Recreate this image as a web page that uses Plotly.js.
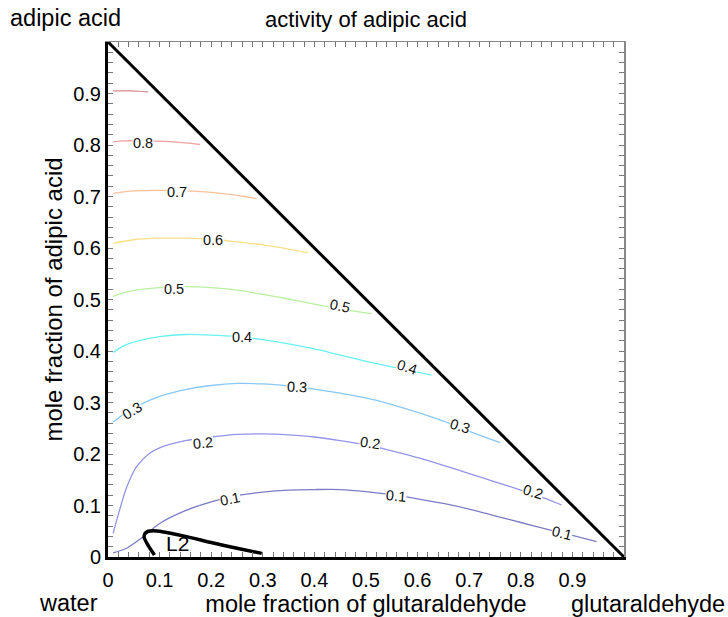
<!DOCTYPE html>
<html>
<head>
<meta charset="utf-8">
<script src="https://cdn.plot.ly/plotly-3.0.1.min.js"></script>
<style>html,body{margin:0;padding:0;background:#fff;}#chart{width:728px;height:617px;}</style>
</head>
<body>
<div id="chart"></div>
<script>
// ---- data (mole fractions) ----
const levels = ["0.9","0.8","0.7","0.6","0.5","0.4","0.3","0.2","0.1"];
const levelColors = ["#d88c8c","#f0a0a0","#f8c098","#f8e088","#b8f0a0","#66f0f0","#88c8f8","#9494ea","#7c7cc4"];

const c09x = [0.01, 0.04, 0.078];
const c09y = [0.905, 0.905, 0.903];
const c08x = [0.01, 0.03, 0.07, 0.11, 0.15, 0.178];
const c08y = [0.806, 0.808, 0.808, 0.807, 0.804, 0.801];
const c07x = [0.01, 0.05, 0.1, 0.15, 0.2, 0.25, 0.288];
const c07y = [0.706, 0.711, 0.712, 0.711, 0.708, 0.702, 0.696];
const c06x = [0.01, 0.05, 0.1, 0.15, 0.2, 0.25, 0.3, 0.35, 0.388];
const c06y = [0.609, 0.616, 0.619, 0.619, 0.617, 0.612, 0.606, 0.598, 0.591];
const c05x = [0.01, 0.03, 0.06, 0.1, 0.15, 0.2, 0.25, 0.3, 0.35, 0.4, 0.45, 0.511];
const c05y = [0.506, 0.513, 0.519, 0.523, 0.525, 0.523, 0.518, 0.51, 0.501, 0.491, 0.482, 0.472];
const c04x = [0.01, 0.03, 0.06, 0.1, 0.15, 0.2, 0.25, 0.3, 0.35, 0.4, 0.45, 0.5, 0.55, 0.6, 0.627];
const c04y = [0.397, 0.41, 0.42, 0.428, 0.432, 0.431, 0.428, 0.422, 0.414, 0.404, 0.392, 0.38, 0.369, 0.359, 0.353];
const c03x = [0.01, 0.03, 0.05, 0.08, 0.1, 0.15, 0.2, 0.25, 0.3, 0.35, 0.4, 0.45, 0.5, 0.55, 0.6, 0.65, 0.7, 0.76];
const c03y = [0.262, 0.277, 0.289, 0.304, 0.312, 0.325, 0.333, 0.337, 0.336, 0.332, 0.326, 0.318, 0.309, 0.296, 0.281, 0.264, 0.244, 0.222];
const c02x = [0.01, 0.017, 0.025, 0.036, 0.055, 0.08, 0.1, 0.15, 0.2, 0.25, 0.3, 0.35, 0.4, 0.45, 0.5, 0.55, 0.6, 0.65, 0.7, 0.75, 0.8, 0.85, 0.879];
const c02y = [0.046, 0.072, 0.1, 0.135, 0.175, 0.201, 0.212, 0.226, 0.233, 0.238, 0.239, 0.237, 0.233, 0.226, 0.218, 0.206, 0.193, 0.178, 0.162, 0.146, 0.13, 0.113, 0.101];
const c01x = [0.01, 0.036, 0.068, 0.1, 0.15, 0.2, 0.25, 0.3, 0.35, 0.4, 0.45, 0.5, 0.55, 0.6, 0.65, 0.7, 0.75, 0.8, 0.85, 0.9, 0.947];
const c01y = [0.008, 0.017, 0.039, 0.065, 0.09, 0.107, 0.119, 0.126, 0.13, 0.131, 0.131, 0.127, 0.121, 0.113, 0.104, 0.093, 0.08, 0.067, 0.054, 0.042, 0.03];

const contourX = [c09x, c08x, c07x, c06x, c05x, c04x, c03x, c02x, c01x];
const contourY = [c09y, c08y, c07y, c06y, c05y, c04y, c03y, c02y, c01y];

// L2 phase boundary
const l2x = [0.09, 0.078, 0.07, 0.072, 0.078, 0.088, 0.1, 0.15, 0.2, 0.25, 0.298];
const l2y = [0.004, 0.022, 0.038, 0.046, 0.05, 0.051, 0.05, 0.04, 0.028, 0.017, 0.007];

// binary edge x + y = 1
const edgeX = [0, 1];
const edgeY = [1, 0];

// contour labels
const labelText = ["0.8","0.7","0.6","0.5","0.5","0.4","0.4","0.3","0.3","0.3","0.2","0.2","0.2","0.1","0.1","0.1"];
const labelX = [0.068, 0.133, 0.204, 0.127, 0.450, 0.259, 0.579, 0.046, 0.366, 0.682, 0.185, 0.508, 0.824, 0.236, 0.559, 0.879];
const labelY = [0.804, 0.709, 0.616, 0.521, 0.488, 0.428, 0.368, 0.284, 0.330, 0.254, 0.221, 0.221, 0.126, 0.113, 0.118, 0.047];
const labelAngle = [0, 0, 0, 0, 12, 0, 18, -32, 3, 17, -6, 8, 17, -12, 5, 14];

const tickVals = [0, 0.1, 0.2, 0.3, 0.4, 0.5, 0.6, 0.7, 0.8, 0.9];
const tickText = ["0", "0.1", "0.2", "0.3", "0.4", "0.5", "0.6", "0.7", "0.8", "0.9"];

// ---- traces ----
const FONT = "Liberation Sans, Arial, Helvetica, sans-serif";
const traces = [];
for (let i = 0; i < levels.length; i++) {
  traces.push({
    x: contourX[i], y: contourY[i], type: "scatter", mode: "lines",
    line: {color: levelColors[i], width: 1.3, shape: "spline", smoothing: 0.8},
    hoverinfo: "skip", showlegend: false
  });
}
traces.push({x: l2x, y: l2y, type: "scatter", mode: "lines",
  line: {color: "#000", width: 3.5, shape: "spline", smoothing: 0.6}, showlegend: false});
traces.push({x: edgeX, y: edgeY, type: "scatter", mode: "lines",
  line: {color: "#000", width: 3}, showlegend: false});
traces.push({x: [], y: [], xaxis: "x2", yaxis: "y2", type: "scatter", mode: "lines", showlegend: false});

const annotations = [];
for (let i = 0; i < labelText.length; i++) {
  annotations.push({x: labelX[i], y: labelY[i], xref: "x", yref: "y", text: labelText[i],
    showarrow: false, textangle: labelAngle[i], bgcolor: "#fff", borderpad: 0,
    font: {family: FONT, size: 14.5, color: "#111"}});
}
annotations.push({x: 0.134, y: 0.027, xref: "x", yref: "y", text: "L2", showarrow: false,
  font: {family: FONT, size: 21, color: "#000"}});

const W = 728, H = 617, ML = 108, MR = 104, MT = 42, MB = 60;
const pw = W - ML - MR, ph = H - MT - MB;
function px2paperX(px) { return (px - ML) / pw; }
function px2paperY(py) { return (H - MB - py) / ph; }
annotations.push({x: px2paperX(8), y: px2paperY(18), xref: "paper", yref: "paper", xanchor: "left", yanchor: "middle",
  text: "adipic acid", showarrow: false, font: {family: FONT, size: 23.5, color: "#000"}});
annotations.push({x: px2paperX(68), y: px2paperY(603), xref: "paper", yref: "paper", xanchor: "center", yanchor: "middle",
  text: "water", showarrow: false, font: {family: FONT, size: 23.5, color: "#000"}});
annotations.push({x: px2paperX(727), y: px2paperY(604), xref: "paper", yref: "paper", xanchor: "right", yanchor: "middle",
  text: "glutaraldehyde", showarrow: false, font: {family: FONT, size: 23.5, color: "#000"}});

const minorTicks = {tickmode: "linear", tick0: 0, dtick: 0.02, ticks: "inside", ticklen: 5, tickcolor: "#777", tickwidth: 1};

const layout = {
  width: W, height: H,
  margin: {l: ML, r: MR, t: MT, b: MB, pad: 0},
  paper_bgcolor: "#fff", plot_bgcolor: "#fff",
  font: {family: FONT, size: 20, color: "#000"},
  title: {text: "activity of adipic acid", x: 0.5, xref: "paper", xanchor: "center", y: 1 - 19 / H, yanchor: "middle",
    font: {family: FONT, size: 22, color: "#000"}},
  showlegend: false,
  xaxis: {range: [0, 1], tickmode: "array", tickvals: tickVals, ticktext: tickText, ticks: "inside", ticklen: 5,
    tickcolor: "#777", tickwidth: 1, minor: minorTicks, showline: true, linecolor: "#000", linewidth: 3,
    showgrid: false, zeroline: false, ticklabelstandoff: 3, tickfont: {family: FONT, size: 20, color: "#000"},
    title: {text: "mole fraction of glutaraldehyde", standoff: 2, font: {family: FONT, size: 23.5, color: "#000"}}},
  yaxis: {range: [0, 1], tickmode: "array", tickvals: tickVals, ticktext: tickText, ticks: "inside", ticklen: 5,
    tickcolor: "#777", tickwidth: 1, minor: minorTicks, showline: true, linecolor: "#000", linewidth: 3,
    showgrid: false, zeroline: false, ticklabelstandoff: 0, tickfont: {family: FONT, size: 20, color: "#000"},
    title: {text: "mole fraction of adipic acid", standoff: 4, font: {family: FONT, size: 24, color: "#000"}}},
  xaxis2: {range: [0, 1], overlaying: "x", side: "top", anchor: "y", tickmode: "array", tickvals: tickVals,
    showticklabels: false, ticks: "inside", ticklen: 5, tickcolor: "#777", minor: minorTicks,
    showline: true, linecolor: "#888", linewidth: 1.5, showgrid: false, zeroline: false},
  yaxis2: {range: [0, 1], overlaying: "y", side: "right", anchor: "x", tickmode: "array", tickvals: tickVals,
    showticklabels: false, ticks: "inside", ticklen: 5, tickcolor: "#777", minor: minorTicks,
    showline: true, linecolor: "#888", linewidth: 1.5, showgrid: false, zeroline: false},
  annotations: annotations
};

Plotly.newPlot("chart", traces, layout, {displayModeBar: false, staticPlot: true});
</script>
</body>
</html>
